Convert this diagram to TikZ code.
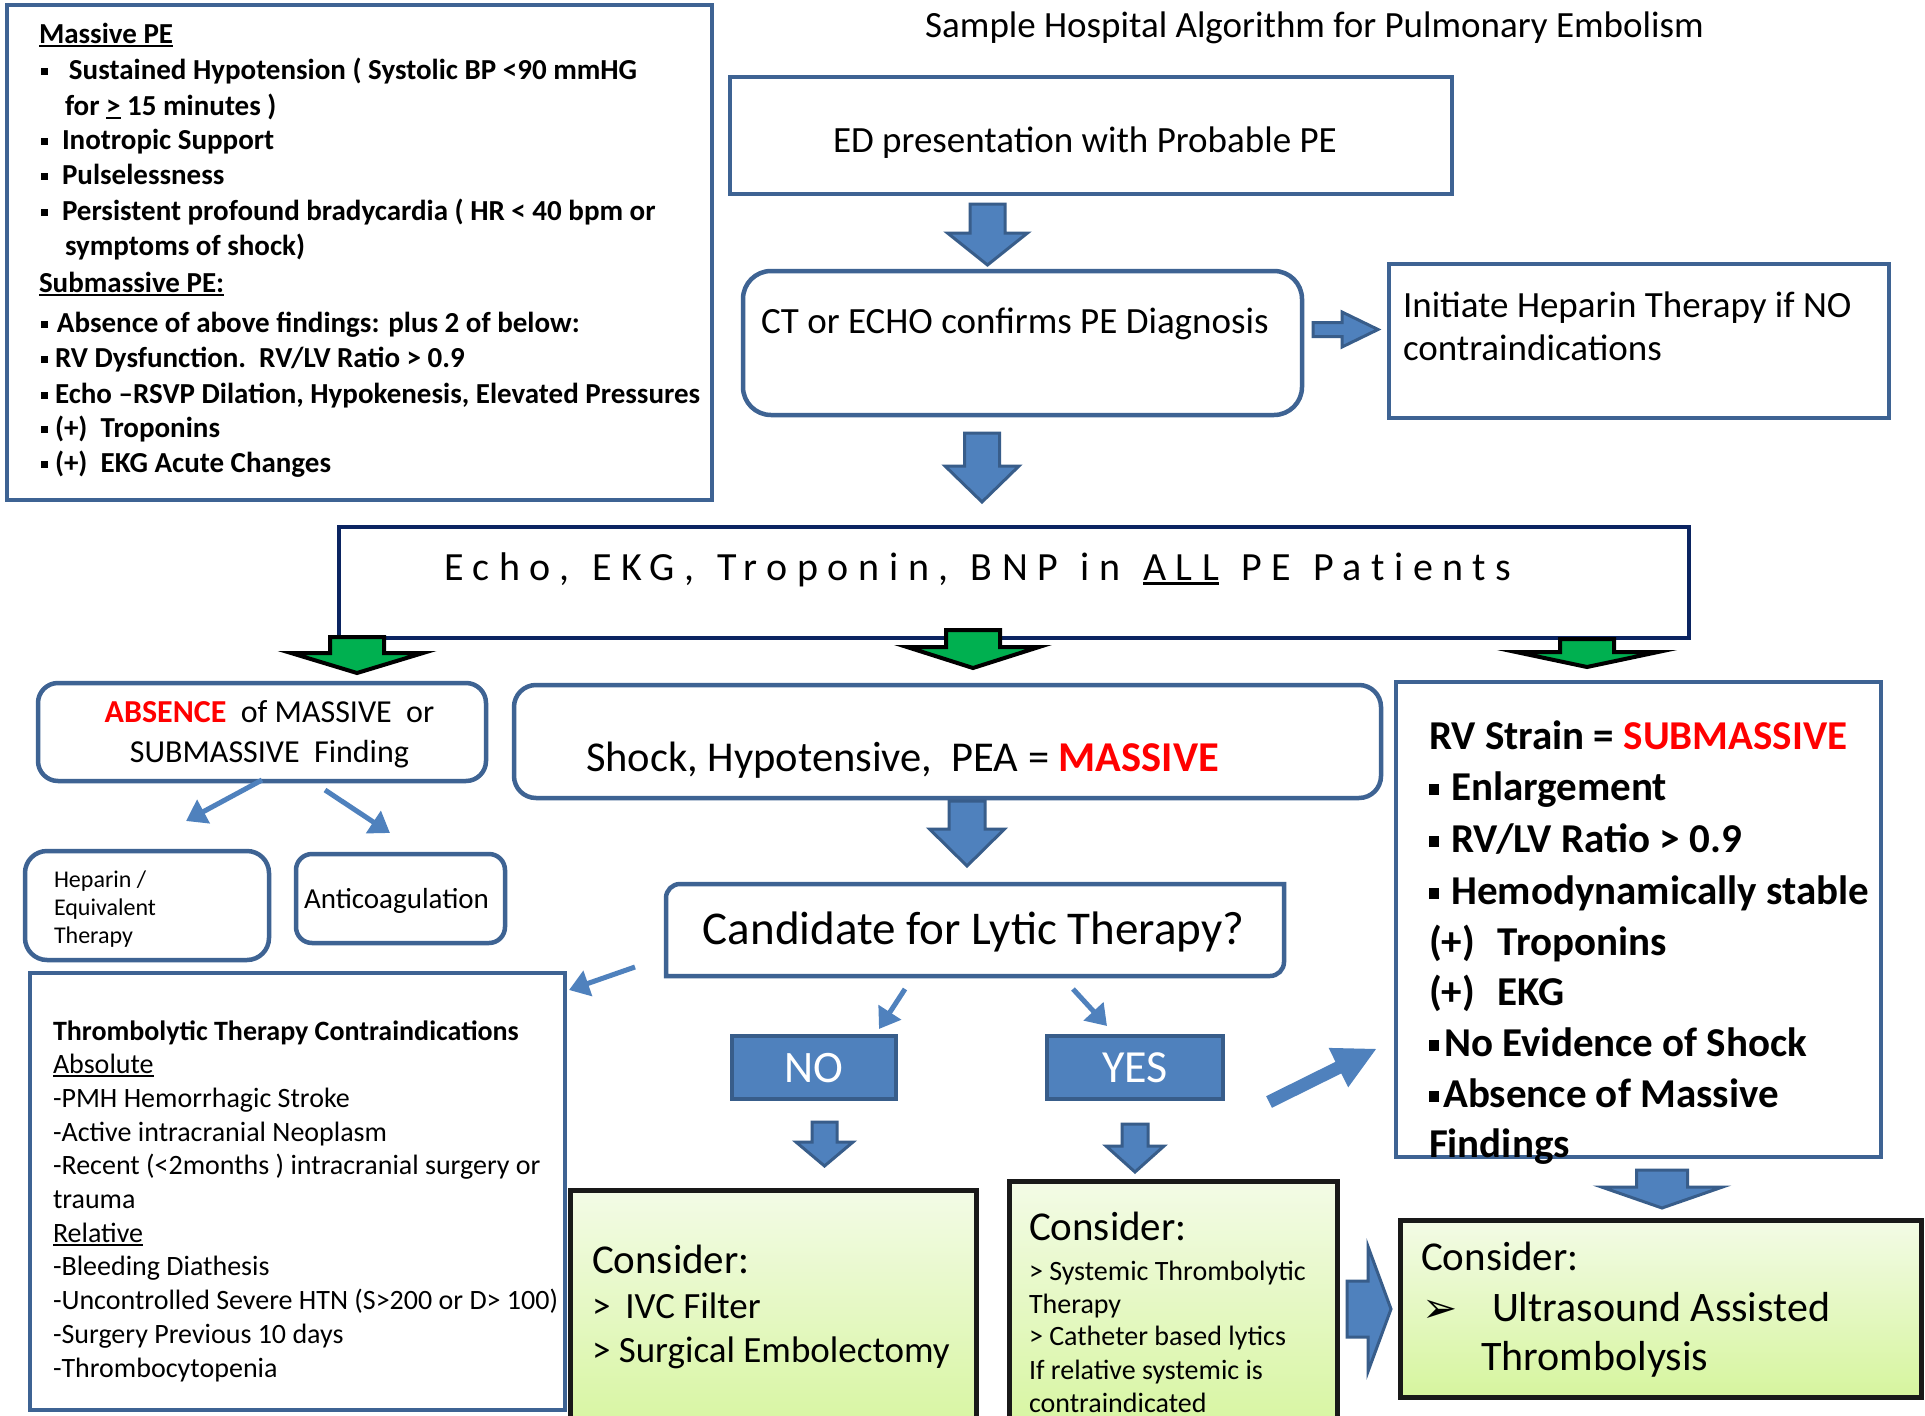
\documentclass[tikz,border=0pt]{standalone}
\usepackage{fontspec}
\setmainfont{Carlito}
\newfontfamily\dejavu{DejaVu Sans}
\newfontfamily\echofont[LetterSpace=24,WordSpace=1.2,Ligatures=NoCommon]{Carlito}
\usetikzlibrary{arrows.meta}
\definecolor{boxblue}{HTML}{3E6393}
\definecolor{arrfill}{HTML}{4F81BD}
\definecolor{arrline}{HTML}{385D8A}
\definecolor{navy}{HTML}{0B2461}
\definecolor{pegreen}{HTML}{00B050}
\definecolor{pered}{HTML}{FF0000}
\definecolor{gtop}{HTML}{F3FBE6}
\definecolor{gbot}{HTML}{D6F59E}
\newcommand\fsz[1]{\fontsize{#1}{#1}\selectfont}
\newcommand\sqb[1]{\rule[0.13em]{0.25em}{0.25em}\hspace{#1}}
\newsavebox\ulbox
\newcommand\ulx[1]{\sbox\ulbox{#1}\rlap{\rule[-0.13em]{\wd\ulbox}{0.075em}}\usebox\ulbox}
% block arrow pointing down: style, cx, top, headbase, tip, shaft half, head half
\newcommand\blkdown[7]{\draw[#1] ({#2-#6},#3) -- ({#2+#6},#3) -- ({#2+#6},#4) -- ({#2+#7},#4) -- (#2,#5) -- ({#2-#7},#4) -- ({#2-#6},#4) -- cycle;}
% block arrow pointing right: style, cy, left, headbase, tip, shaft half, head half
\newcommand\blkright[7]{\draw[#1] (#3,{#2-#6}) -- (#4,{#2-#6}) -- (#4,{#2-#7}) -- (#5,#2) -- (#4,{#2+#7}) -- (#4,{#2+#6}) -- (#3,{#2+#6}) -- cycle;}
\begin{document}
\begin{tikzpicture}[x=1pt,y=-1pt,
  box/.style={draw=boxblue, line width=4.5pt, fill=white, inner sep=0pt, outer sep=0pt},
  rbox/.style={box, rounded corners=#1},
  lbl/.style={inner sep=0pt, outer sep=0pt, anchor=base west},
  clbl/.style={inner sep=0pt, outer sep=0pt, anchor=base},
  blk/.style={fill=arrfill, draw=arrline, line width=3pt},
  grn/.style={fill=pegreen, draw=black, line width=4pt},
  thin/.style={draw=arrfill, line width=5pt, -{Triangle[length=20pt,width=26pt]}},
  cons/.style={draw=black!90, line width=5pt, top color=gtop, bottom color=gbot, inner sep=0pt, outer sep=0pt}]
\useasboundingbox (0,0) rectangle (1925,1416);
\clip (0,0) rectangle (1925,1416);
\fill[white] (0,0) rectangle (1925,1416);

% ---------- boxes ----------
\node[box, minimum width=705pt, minimum height=495pt] (mp) at (359.5,252.5) {};
\node[box, minimum width=722pt, minimum height=117pt] (ed) at (1091,135.5) {};
\node[rbox=28pt, minimum width=559pt, minimum height=144pt] (ct) at (1022.5,343) {};
\node[box, minimum width=500pt, minimum height=154pt] (hep) at (1639,341) {};
\node[box, draw=navy, minimum width=1350pt, minimum height=111pt] (echo) at (1014,582.5) {};
\node[rbox=20pt, minimum width=448pt, minimum height=98pt] (abs) at (262,732) {};
\node[rbox=22pt, minimum width=867pt, minimum height=113pt] (shock) at (947.5,741.5) {};
\node[box, minimum width=485pt, minimum height=475pt] (rv) at (1638.5,919.5) {};
\node[rbox=22pt, minimum width=244pt, minimum height=109pt] (hepeq) at (147,905.5) {};
\node[rbox=16pt, minimum width=209pt, minimum height=89pt] (anti) at (400.5,898.5) {};
\draw[draw=boxblue, line width=4.5pt, fill=white] (666,976) -- (666,898) .. controls (666,890.3) and (672.3,884) .. (680,884) -- (1284,884) -- (1284,962) .. controls (1284,969.7) and (1277.7,976) .. (1270,976) -- cycle;
\node[inner sep=0pt, minimum width=618pt, minimum height=92pt] (cand) at (975,930) {};
\node[box, minimum width=535pt, minimum height=437pt] (thr) at (297.5,1191.5) {};
\node[blk, line width=4pt, inner sep=0pt, minimum width=164pt, minimum height=63pt] (no) at (814,1067.5) {};
\node[blk, line width=4pt, inner sep=0pt, minimum width=176pt, minimum height=63pt] (yes) at (1135,1067.5) {};
\node[cons, minimum width=406pt, minimum height=250pt] (cno) at (773,1315) {};
\node[cons, minimum width=328pt, minimum height=259pt] (cyes) at (1173,1310.5) {};
\node[cons, minimum width=521pt, minimum height=177pt] (ultra) at (1660.5,1308.5) {};

% ---------- title ----------
\node[clbl, font=\fsz{37}] (title) at (1314.5,37) {Sample Hospital Algorithm for Pulmonary Embolism};

% ---------- Massive PE box text ----------
\begin{scope}[every node/.style={lbl}, font={\bfseries\fsz{29}}]
\node (mp1) at (39,43) {\ulx{Massive PE}};
\node (mp2) at (41,79) {\sqb{20.75pt}Sustained Hypotension ( Systolic BP <90 mmHG};
\node (mp3) at (65,115) {for \ulx{>} 15 minutes )};
\node (mp4) at (41,149) {\sqb{13.75pt}Inotropic Support};
\node (mp5) at (41,184) {\sqb{13.75pt}Pulselessness};
\node (mp6) at (41,220) {\sqb{13.75pt}Persistent profound bradycardia ( HR < 40 bpm or};
\node (mp7) at (65,255) {symptoms of shock)};
\node (mp8) at (39,292) {\ulx{Submassive PE:}};
\node (mp9) at (41,332) {\sqb{8.75pt}Absence of above findings: plus 2 of below:};
\node (mp10) at (41,367) {\sqb{6.75pt}RV Dysfunction.\ \ RV/LV Ratio > 0.9};
\node (mp11) at (41,403) {\sqb{6.75pt}Echo –RSVP Dilation, Hypokenesis, Elevated Pressures};
\node (mp12) at (41,437) {\sqb{6.75pt}(+)\ \ Troponins};
\node (mp13) at (41,472) {\sqb{6.75pt}(+)\ \ EKG Acute Changes};
\end{scope}

% ---------- top flow texts ----------
\node[lbl, font=\fsz{37}] (edt) at (833,152) {ED presentation with Probable PE};
\node[lbl, font=\fsz{37}] (ctt) at (761,333) {CT or ECHO confirms PE Diagnosis};
\node[lbl, font=\fsz{37}] (hept1) at (1403,317) {Initiate Heparin Therapy if NO};
\node[lbl, font=\fsz{37}] (hept2) at (1403,360) {contraindications};
\node[lbl, font={\echofont\fsz{40}}] (echot) at (444,580) {Echo, EKG, Troponin, BNP in \ulx{ALL} PE Patients};

% ---------- middle row texts ----------
\node[clbl, font=\fsz{32}] (abst1) at (269.5,722) {{\color{pered}\bfseries ABSENCE}\hspace{0.45em}of MASSIVE\hspace{0.45em}or};
\node[clbl, font=\fsz{32}] (abst2) at (269.5,762) {SUBMASSIVE\hspace{0.45em}Finding};
\node[lbl, font=\fsz{42.5}] (shockt) at (586,771) {Shock, Hypotensive,\ \ PEA = {\color{pered}\bfseries MASSIVE}};
\node[lbl, font=\fsz{24}] (hq1) at (54,887) {Heparin /};
\node[lbl, font=\fsz{24}] (hq2) at (54,915) {Equivalent};
\node[lbl, font=\fsz{24}] (hq3) at (54,943) {Therapy};
\node[clbl, font=\fsz{29}] (antit) at (396.5,908) {Anticoagulation};
\node[clbl, font=\fsz{47}] (candt) at (973.5,944) {Candidate for Lytic Therapy?};
\node[clbl, font=\fsz{45}, text=white] (not) at (814,1082) {NO};
\node[clbl, font=\fsz{46}, text=white] (yest) at (1135,1082) {YES};

% ---------- RV box text ----------
\begin{scope}[every node/.style={lbl}, font={\bfseries\fsz{41}}]
\node (rv1) at (1429,749) {RV Strain = {\color{pered}SUBMASSIVE}};
\node (rv2) at (1429,800) {\sqb{12pt}Enlargement};
\node (rv3) at (1429,852) {\sqb{12pt}RV/LV Ratio > 0.9};
\node (rv4) at (1429,904) {\sqb{12pt}Hemodynamically stable};
\node (rv5) at (1429,955) {(+)\hspace{23pt}Troponins};
\node (rv6) at (1429,1005) {(+)\hspace{23pt}EKG};
\node (rv7) at (1429,1056) {\sqb{5pt}No Evidence of Shock};
\node (rv8) at (1429,1107) {\sqb{4pt}Absence of Massive};
\node (rv9) at (1429,1157) {Findings};
\end{scope}

% ---------- Thrombolytic contraindications ----------
\begin{scope}[every node/.style={lbl}, font={\fsz{28}}]
\node (th1) at (53,1040) {\textbf{Thrombolytic Therapy Contraindications}};
\node (th2) at (53,1073.7) {\ulx{Absolute}};
\node (th3) at (53,1107.4) {-PMH Hemorrhagic Stroke};
\node (th4) at (53,1141.1) {-Active intracranial Neoplasm};
\node (th5) at (53,1174.8) {-Recent (<2months ) intracranial surgery or};
\node (th6) at (53,1208.5) {trauma};
\node (th7) at (53,1242.2) {\ulx{Relative}};
\node (th8) at (53,1275.9) {-Bleeding Diathesis};
\node (th9) at (53,1309.6) {-Uncontrolled Severe HTN (S>200 or D> 100)};
\node (th10) at (53,1343.3) {-Surgery Previous 10 days};
\node (th11) at (53,1377) {-Thrombocytopenia};
\end{scope}

% ---------- Consider boxes ----------
\node[lbl, font=\fsz{41}] (cn1) at (592,1273) {Consider:};
\node[lbl, font=\fsz{37}] (cn2) at (592,1318) {>\hspace{15pt}IVC Filter};
\node[lbl, font=\fsz{37}] (cn3) at (592,1362) {> Surgical Embolectomy};
\node[lbl, font=\fsz{41}] (cy1) at (1029,1240) {Consider:};
\begin{scope}[every node/.style={lbl}, font={\fsz{28}}]
\node (cy2) at (1029,1280) {> Systemic Thrombolytic};
\node (cy3) at (1029,1313) {Therapy};
\node (cy4) at (1029,1345) {> Catheter based lytics};
\node (cy5) at (1029,1379) {If relative systemic is};
\node (cy6) at (1029,1412) {contraindicated};
\end{scope}
\node[lbl, font=\fsz{41}] (u1) at (1421,1270) {Consider:};
\node[lbl, font={\dejavu\fsz{42}}] (u2) at (1422,1322) {➢};
\node[lbl, font=\fsz{42}] (u3) at (1492,1321) {Ultrasound Assisted};
\node[lbl, font=\fsz{42}] (u4) at (1481,1370) {Thrombolysis};

% ---------- block arrows ----------
\blkdown{blk}{987.5}{204}{233}{265}{17.5}{40}
\blkdown{blk}{982}{433}{466}{502}{17.5}{37}
\blkright{blk}{329.5}{1313}{1342}{1378}{7}{17.5}
\blkdown{grn}{357}{637}{653}{673}{27}{66}
\blkdown{grn}{973}{630}{647}{668}{27}{66}
\blkdown{grn}{1587}{639}{652}{667}{27}{71}
\blkdown{blk}{967}{801}{829}{866}{18}{37.5}
\blkdown{blk}{824.5}{1122}{1142}{1166}{12.5}{28.5}
\blkdown{blk}{1135}{1124}{1146}{1172}{13}{29}
\blkdown{blk}{1662}{1170}{1187}{1208}{25.5}{60.5}
\blkright{blk}{1309}{1347}{1368}{1391}{28}{62.5}
\fill[arrfill] (1266.1,1096.2) -- (1335.5,1061.8) -- (1328.6,1047.9) -- (1376,1049) -- (1348.2,1087.3) -- (1341.3,1073.4) -- (1271.9,1107.8) -- cycle;

% ---------- thin arrows ----------
\coordinate (a1s) at (262,780); \coordinate (a1e) at (186,821);
\coordinate (a2s) at (325,790); \coordinate (a2e) at (390,833);
\coordinate (a3s) at (635,967); \coordinate (a3e) at (569,990);
\coordinate (a4s) at (905,989); \coordinate (a4e) at (879,1029);
\coordinate (a5s) at (1073,989); \coordinate (a5e) at (1107,1026);
\draw[thin] (a1s) -- (a1e);
\draw[thin] (a2s) -- (a2e);
\draw[thin] (a3s) -- (a3e);
\draw[thin] (a4s) -- (a4e);
\draw[thin] (a5s) -- (a5e);
\end{tikzpicture}
\end{document}
